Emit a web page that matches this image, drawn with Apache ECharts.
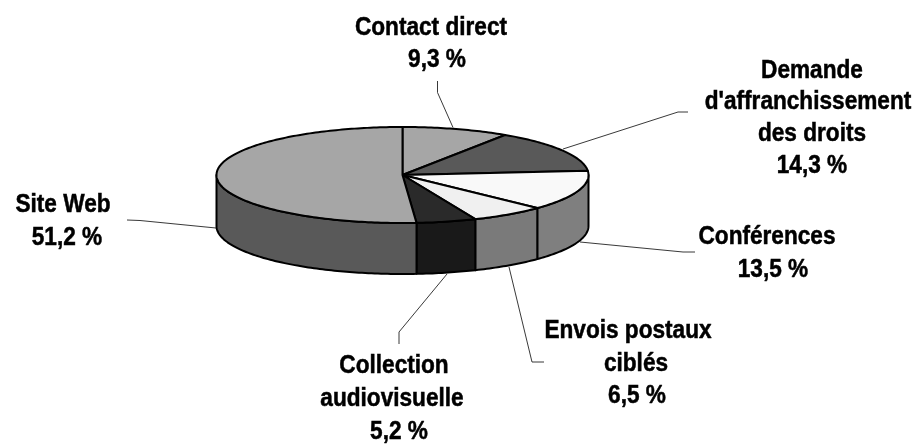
<!DOCTYPE html>
<html><head><meta charset="utf-8">
<style>html,body{margin:0;padding:0;background:#fff}#c{width:916px;height:444px}</style>
<script src="https://cdn.jsdelivr.net/npm/echarts@6/dist/echarts.min.js"></script>
</head><body><div id="c"></div>
<script>
// Data
const categories = ['Contact direct', "Demande\nd'affranchissement\ndes droits", 'Conférences', 'Envois postaux\nciblés', 'Collection\naudiovisuelle', 'Site Web'];
const shares = [9.3, 14.3, 13.5, 6.5, 5.2, 51.2];
const valueLabels = ['9,3 %', '14,3 %', '13,5 %', '6,5 %', '5,2 %', '51,2 %'];

// Styles and layout
const topColors = ['#a6a6a6', '#595959', '#f9f9f9', '#f0f0f0', '#2a2a2a', '#a6a6a6'];
const sideColors = ['#a6a6a6', '#595959', '#7f7f7f', '#7a7a7a', '#191919', '#595959'];
const CX = 402.5, CY = 175, RX = 186, RY = 48, DEPTH = 51;
const lineCentersX = [[431, 437], [812, 808, 812, 812], [767, 773], [628, 636, 637], [394, 392, 399], [63, 67]];
const lineCentersY = [[27, 59], [69.5, 101, 133, 165], [236, 268.5], [330, 363, 395], [365, 398, 431], [203.5, 236.5]];
const TEXT_DY = 1.5;
const leaders = [
  [[437.5, 81], [437.5, 92.5], [453, 127.5]],
  [[563, 149], [678, 112], [688, 112]],
  [[580, 242], [683, 252], [695, 252]],
  [[509, 267], [532, 362], [544, 362]],
  [[447, 274], [399, 332], [399, 344]],
  [[216, 228], [140, 220.5], [127, 220]]
];

const total = shares.reduce((a, b) => a + b, 0);
function pt(deg, dy) {
  const r = deg * Math.PI / 180;
  return [CX + RX * Math.sin(r), CY - RY * Math.cos(r) + (dy || 0)];
}
function arc(a0, a1, dy) {
  const pts = [], n = Math.max(2, Math.ceil(Math.abs(a1 - a0)));
  for (let i = 0; i <= n; i++) pts.push(pt(a0 + (a1 - a0) * i / n, dy));
  return pts;
}
const edge = { stroke: '#000', lineWidth: 2, lineJoin: 'round' };
const thin = { stroke: '#222', lineWidth: 0.9, fill: 'none' };

function renderAll(params, api) {
  let acc = 0;
  const walls = [], tops = [], texts = [], lines = [];
  shares.forEach((v, i) => {
    const a0 = acc / total * 360; acc += v; const a1 = acc / total * 360;
    const s = Math.max(a0, 90), e = Math.min(a1, 270);
    if (e > s) {
      const poly = arc(s, e, 0).concat(arc(e, s, DEPTH));
      walls.push({ type: 'polygon', shape: { points: poly }, style: Object.assign({ fill: sideColors[i] }, edge) });
    }
    tops.push({ type: 'polygon', shape: { points: [[CX, CY]].concat(arc(a0, a1, 0)) }, style: Object.assign({ fill: topColors[i] }, edge) });
    lines.push({ type: 'polyline', shape: { points: leaders[i] }, style: thin });
    categories[i].split('\n').concat(valueLabels[i]).forEach((t, k) => {
      texts.push({ type: 'text', x: lineCentersX[i][k], y: lineCentersY[i][k] + TEXT_DY, scaleX: 0.905, style: {
        text: t, align: 'center', verticalAlign: 'middle',
        font: 'bold 25px "Liberation Sans",sans-serif', fill: '#000', stroke: '#000', lineWidth: 0.5 } });
    });
  });
  return { type: 'group', children: lines.concat(walls, tops, texts) };
}

const chart = echarts.init(document.getElementById('c'), null, { renderer: 'canvas' });
chart.setOption({
  animation: false,
  backgroundColor: '#fff',
  series: [{
    type: 'custom',
    coordinateSystem: 'none',
    data: [shares[0]],
    renderItem: renderAll,
    silent: true
  }]
});
</script></body></html>
